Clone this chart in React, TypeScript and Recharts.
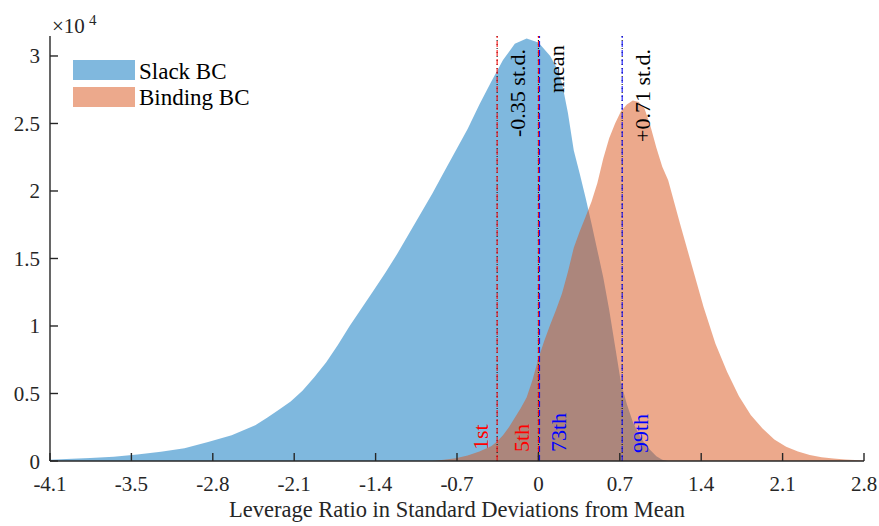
import React from 'react';
import { ComposedChart, Area, XAxis, YAxis, ReferenceLine } from 'recharts';

const slackX = [-4.14, -4.0, -3.8, -3.6, -3.4, -3.2, -3.0, -2.8, -2.6, -2.4, -2.3, -2.2, -2.1, -2.0, -1.9, -1.8, -1.7, -1.6, -1.5, -1.4, -1.3, -1.2, -1.1, -1.0, -0.9, -0.8, -0.7, -0.6, -0.5, -0.4, -0.3, -0.2, -0.1, 0.0, 0.1, 0.15, 0.2, 0.25, 0.3, 0.35, 0.4, 0.45, 0.5, 0.55, 0.6, 0.65, 0.7, 0.75, 0.8, 0.85, 0.9, 0.95, 1.0, 1.05, 1.1];
const slackCount = [100, 150, 220, 320, 480, 680, 950, 1400, 1900, 2650, 3200, 3800, 4400, 5200, 6200, 7300, 8600, 10000, 11300, 12600, 13900, 15300, 16800, 18300, 19800, 21400, 23000, 24600, 26400, 28100, 29700, 30900, 31300, 31000, 30000, 29200, 28000, 25800, 23000, 21300, 19500, 17600, 15600, 13600, 11200, 8500, 5800, 4200, 2900, 2000, 1300, 800, 350, 100, 0];

const bindingX = [-0.9, -0.8, -0.7, -0.6, -0.5, -0.4, -0.35, -0.3, -0.25, -0.2, -0.15, -0.1, -0.05, 0.0, 0.05, 0.1, 0.15, 0.2, 0.25, 0.3, 0.35, 0.4, 0.45, 0.5, 0.55, 0.6, 0.65, 0.7, 0.75, 0.8, 0.85, 0.9, 0.95, 1.0, 1.05, 1.1, 1.2, 1.3, 1.4, 1.5, 1.6, 1.7, 1.8, 1.9, 2.0, 2.1, 2.2, 2.3, 2.4, 2.5, 2.6, 2.76];
const bindingCount = [0, 100, 200, 400, 700, 1100, 1450, 1900, 2500, 3200, 3900, 4700, 6000, 7600, 8900, 10100, 11200, 12400, 14000, 15800, 17000, 18100, 19200, 20600, 22400, 23900, 25000, 25900, 26400, 26700, 26600, 26100, 24800, 23200, 21800, 20800, 17600, 14500, 11400, 8700, 6600, 4800, 3400, 2400, 1600, 1050, 700, 450, 280, 180, 110, 40];

const seriesNames = ['Slack BC', 'Binding BC'];

const xTickValues = [-4.14, -3.45, -2.76, -2.07, -1.38, -0.69, 0, 0.69, 1.38, 2.07, 2.76];
const xTickLabels = ['-4.1', '-3.5', '-2.8', '-2.1', '-1.4', '-0.7', '0', '0.7', '1.4', '2.1', '2.8'];
const yTickValues = [0, 5000, 10000, 15000, 20000, 25000, 30000];
const yTickLabels = ['0', '0.5', '1', '1.5', '2', '2.5', '3'];

const stdMarkX = [-0.35, 0, 0.71];
const stdMarkLabels = ['-0.35 st.d.', 'mean', '+0.71 st.d.'];
const bindingPctX = [-0.35, 0];
const bindingPctLabels = ['1st', '5th'];
const slackPctX = [0.01, 0.71];
const slackPctLabels = ['73th', '99th'];

const xAxisLabel = 'Leverage Ratio in Standard Deviations from Mean';

function buildTable() {
  const rows = new Map<number, any>();
  slackX.forEach((x, i) => {
    const r = rows.get(x) || { x };
    r.slack = slackCount[i];
    rows.set(x, r);
  });
  bindingX.forEach((x, i) => {
    const r = rows.get(x) || { x };
    r.binding = bindingCount[i];
    rows.set(x, r);
  });
  return Array.from(rows.values()).sort((a, b) => a.x - b.x);
}
const table = buildTable();

const FONT = '"Liberation Serif", "Times New Roman", Times, serif';
const AX = '#262626';
const BLUE = 'rgb(0,114,189)';
const ORANGE = 'rgb(217,83,25)';

const labelFor = (vals: number[], labels: string[], v: number) => {
  let best = 0;
  vals.forEach((t, i) => {
    if (Math.abs(t - v) < Math.abs(vals[best] - v)) best = i;
  });
  return labels[best];
};

const XTick = (p: any) => (
  <g>
    <line x1={p.x} x2={p.x} y1={p.y} y2={p.y - 8} stroke={AX} strokeWidth={1.4} />
    <text x={p.x} y={p.y + 30} textAnchor="middle" fontSize={21} fontFamily={FONT} fill={AX}>
      {labelFor(xTickValues, xTickLabels, p.payload.value)}
    </text>
  </g>
);

const YTick = (p: any) => (
  <g>
    <line x1={p.x} x2={p.x + 8} y1={p.y} y2={p.y} stroke={AX} strokeWidth={1.4} />
    <text x={p.x - 10} y={p.y + 7.5} textAnchor="end" fontSize={21} fontFamily={FONT} fill={AX}>
      {labelFor(yTickValues, yTickLabels, p.payload.value)}
    </text>
  </g>
);

const rotLabel = (text: string, color: string, dx: number, fromTop: number) => (props: any) => {
  const vb = props.viewBox || { x: 0, y: 0 };
  const x = vb.x + dx;
  const y = vb.y + fromTop;
  return (
    <text x={x} y={y} transform={`rotate(-90 ${x} ${y})`} fill={color} fontSize={22} fontFamily={FONT}>
      {text}
    </text>
  );
};

const stdLabelPos = [
  { dx: 28, top: 101 },
  { dx: 26, top: 57 },
  { dx: 28, top: 106 },
];
const bindingPctPos = [
  { dx: -9, top: 414 },
  { dx: -9, top: 416 },
];
const slackPctPos = [
  { dx: 26, top: 416 },
  { dx: 26, top: 417 },
];

export default function App() {
  return (
    <div style={{ position: 'absolute', left: 0, top: 0, width: 879, height: 526, background: '#fff' }}>
      <ComposedChart
        width={879}
        height={526}
        data={table}
        margin={{ top: 36, right: 15, left: 0, bottom: 0 }}
      >
        <XAxis
          dataKey="x"
          type="number"
          domain={[-4.14, 2.76]}
          ticks={xTickValues}
          allowDataOverflow
          height={65}
          tickSize={0}
          tickMargin={0}
          tickLine={false}
          axisLine={{ stroke: AX, strokeWidth: 1.4 }}
          tick={<XTick />}
          interval={0}
        />
        <YAxis
          type="number"
          domain={[0, 31480]}
          ticks={yTickValues}
          allowDataOverflow
          width={50}
          tickSize={0}
          tickMargin={0}
          tickLine={false}
          axisLine={{ stroke: AX, strokeWidth: 1.4 }}
          tick={<YTick />}
          interval={0}
        />
        <Area
          dataKey="slack"
          name={seriesNames[0]}
          type="linear"
          fill={BLUE}
          fillOpacity={0.5}
          stroke="none"
          connectNulls
          isAnimationActive={false}
          activeDot={false}
        />
        <Area
          dataKey="binding"
          name={seriesNames[1]}
          type="linear"
          fill={ORANGE}
          fillOpacity={0.5}
          stroke="none"
          connectNulls
          isAnimationActive={false}
          activeDot={false}
        />
        {stdMarkX.map((x, i) => (
          <ReferenceLine
            key={'std' + i}
            x={x}
            stroke="#000"
            strokeWidth={1}
            strokeDasharray="1 3"
            label={rotLabel(stdMarkLabels[i], '#000', stdLabelPos[i].dx, stdLabelPos[i].top)}
          />
        ))}
        {bindingPctX.map((x, i) => (
          <ReferenceLine
            key={'bp' + i}
            x={x}
            stroke="#ff0000"
            strokeWidth={1}
            strokeDasharray="6 3"
            label={rotLabel(bindingPctLabels[i], '#ff0000', bindingPctPos[i].dx, bindingPctPos[i].top)}
          />
        ))}
        {slackPctX.map((x, i) => (
          <ReferenceLine
            key={'sp' + i}
            x={x}
            stroke="#0000ff"
            strokeWidth={1}
            strokeDasharray="6 3"
            label={rotLabel(slackPctLabels[i], '#0000ff', slackPctPos[i].dx, slackPctPos[i].top)}
          />
        ))}
      </ComposedChart>
      <svg
        width={879}
        height={526}
        style={{ position: 'absolute', left: 0, top: 0, pointerEvents: 'none' }}
      >
        <text x={52} y={33} fontSize={21} fontFamily={FONT} fill={AX}>
          ×10
          <tspan x={89} y={25} fontSize={15}>4</tspan>
        </text>
        <rect x={73} y={60} width={62} height={20} fill="rgb(128,184,222)" />
        <rect x={73} y={87} width={62} height={20} fill="rgb(236,169,140)" />
        <text x={139} y={78.5} fontSize={23} fontFamily={FONT} fill="#000">{seriesNames[0]}</text>
        <text x={139} y={104.5} fontSize={23} fontFamily={FONT} fill="#000">{seriesNames[1]}</text>
        <text x={457} y={517} textAnchor="middle" fontSize={22.5} fontFamily={FONT} fill={AX}>{xAxisLabel}</text>
      </svg>
    </div>
  );
}
